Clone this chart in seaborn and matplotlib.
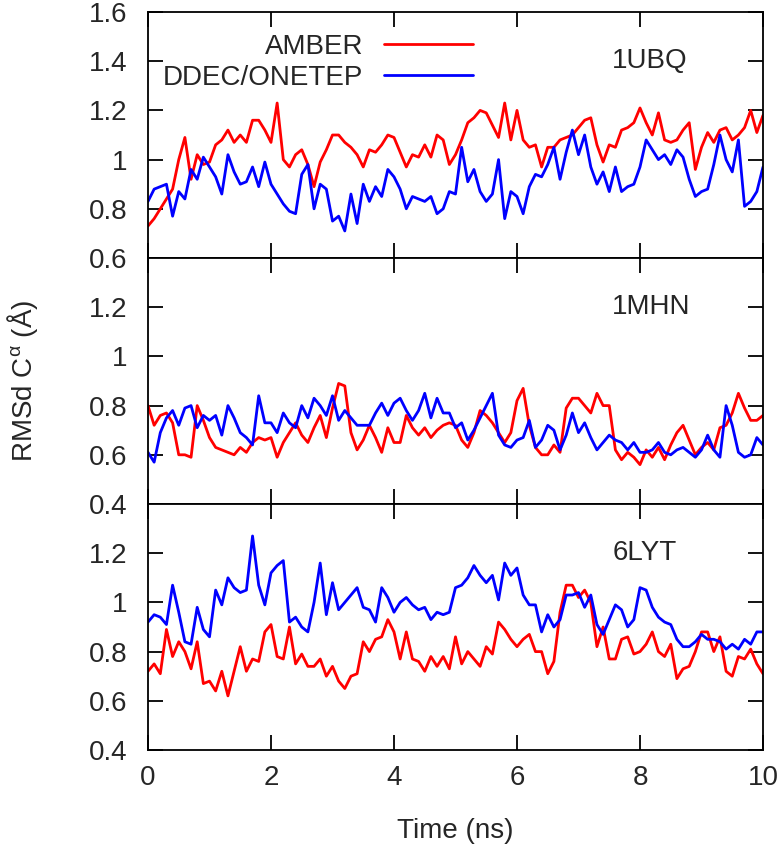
import numpy as np
import pandas as pd
import matplotlib
matplotlib.use('Agg')
import matplotlib.pyplot as plt
import seaborn as sns
from matplotlib.ticker import FuncFormatter

# --- Data: RMSd of C-alpha (Angstrom), sampled every 0.1 ns ---
time_ns = np.linspace(0, 10, 101)

ubq_amber = [
    0.73, 0.76, 0.80, 0.84, 0.88, 1.00, 1.09, 0.92, 1.02, 0.98,
    0.99, 1.06, 1.08, 1.12, 1.07, 1.10, 1.07, 1.16, 1.16, 1.12,
    1.07, 1.23, 1.00, 0.97, 1.02, 1.04, 0.98, 0.89, 0.99, 1.04,
    1.10, 1.10, 1.07, 1.05, 1.02, 0.97, 1.04, 1.03, 1.06, 1.10,
    1.09, 1.03, 0.97, 1.02, 1.01, 1.06, 1.01, 1.10, 1.08, 0.98,
    1.02, 1.08, 1.15, 1.17, 1.20, 1.19, 1.14, 1.09, 1.23, 1.08,
    1.20, 1.08, 1.05, 1.06, 0.97, 1.05, 1.05, 1.08, 1.09, 1.10,
    1.13, 1.16, 1.17, 1.06, 0.99, 1.06, 1.05, 1.12, 1.13, 1.15,
    1.21, 1.15, 1.10, 1.19, 1.08, 1.07, 1.08, 1.12, 1.15, 0.96,
    1.05, 1.11, 1.07, 1.12, 1.13, 1.08, 1.10, 1.13, 1.20, 1.11,
    1.18]
ubq_ddec = [
    0.83, 0.88, 0.89, 0.90, 0.77, 0.87, 0.84, 0.96, 0.92, 1.01,
    0.97, 0.93, 0.86, 1.02, 0.95, 0.90, 0.91, 0.97, 0.89, 0.99,
    0.90, 0.86, 0.82, 0.79, 0.78, 0.94, 0.98, 0.80, 0.90, 0.88,
    0.75, 0.77, 0.71, 0.86, 0.74, 0.90, 0.83, 0.89, 0.85, 0.96,
    0.93, 0.88, 0.80, 0.85, 0.84, 0.83, 0.85, 0.78, 0.80, 0.87,
    0.86, 1.05, 0.91, 0.96, 0.87, 0.83, 0.86, 1.00, 0.76, 0.87,
    0.85, 0.78, 0.89, 0.94, 0.93, 0.98, 1.05, 0.92, 1.03, 1.12,
    1.02, 1.10, 0.97, 0.90, 0.95, 0.87, 0.97, 0.87, 0.89, 0.90,
    0.97, 1.08, 1.04, 1.00, 1.02, 0.98, 1.04, 1.01, 0.92, 0.85,
    0.87, 0.88, 0.98, 1.10, 1.00, 0.95, 1.08, 0.81, 0.83, 0.87,
    0.97]

mhn_amber = [
    0.80, 0.72, 0.76, 0.77, 0.73, 0.60, 0.60, 0.59, 0.80, 0.74,
    0.67, 0.63, 0.62, 0.61, 0.60, 0.63, 0.61, 0.65, 0.67, 0.66,
    0.67, 0.59, 0.65, 0.69, 0.73, 0.68, 0.65, 0.71, 0.76, 0.67,
    0.79, 0.89, 0.88, 0.69, 0.62, 0.66, 0.72, 0.67, 0.61, 0.71,
    0.65, 0.65, 0.76, 0.71, 0.68, 0.71, 0.67, 0.70, 0.72, 0.73,
    0.72, 0.66, 0.63, 0.69, 0.78, 0.76, 0.73, 0.69, 0.65, 0.69,
    0.82, 0.87, 0.72, 0.63, 0.60, 0.60, 0.64, 0.61, 0.79, 0.83,
    0.83, 0.80, 0.77, 0.85, 0.80, 0.80, 0.62, 0.58, 0.61, 0.59,
    0.56, 0.62, 0.59, 0.63, 0.58, 0.64, 0.69, 0.72, 0.66, 0.60,
    0.63, 0.65, 0.62, 0.71, 0.72, 0.77, 0.85, 0.79, 0.74, 0.74,
    0.76]
mhn_ddec = [
    0.61, 0.57, 0.69, 0.75, 0.78, 0.72, 0.79, 0.80, 0.71, 0.76,
    0.74, 0.76, 0.68, 0.80, 0.75, 0.69, 0.67, 0.64, 0.84, 0.73,
    0.73, 0.69, 0.77, 0.73, 0.71, 0.80, 0.75, 0.83, 0.80, 0.76,
    0.84, 0.74, 0.78, 0.75, 0.72, 0.72, 0.72, 0.77, 0.81, 0.76,
    0.81, 0.83, 0.78, 0.74, 0.78, 0.85, 0.75, 0.83, 0.77, 0.77,
    0.71, 0.73, 0.66, 0.70, 0.75, 0.80, 0.85, 0.68, 0.64, 0.63,
    0.66, 0.67, 0.74, 0.63, 0.66, 0.72, 0.70, 0.62, 0.68, 0.77,
    0.69, 0.73, 0.67, 0.62, 0.65, 0.68, 0.66, 0.65, 0.62, 0.65,
    0.61, 0.61, 0.62, 0.65, 0.61, 0.60, 0.62, 0.63, 0.61, 0.59,
    0.62, 0.68, 0.62, 0.59, 0.80, 0.72, 0.61, 0.59, 0.60, 0.67,
    0.64]

lyt_amber = [
    0.72, 0.75, 0.71, 0.89, 0.78, 0.84, 0.80, 0.73, 0.84, 0.67,
    0.68, 0.64, 0.72, 0.62, 0.72, 0.82, 0.72, 0.77, 0.76, 0.88,
    0.91, 0.78, 0.77, 0.90, 0.75, 0.79, 0.74, 0.74, 0.77, 0.70,
    0.74, 0.68, 0.65, 0.70, 0.71, 0.84, 0.80, 0.85, 0.86, 0.93,
    0.88, 0.77, 0.88, 0.77, 0.76, 0.72, 0.78, 0.74, 0.78, 0.73,
    0.86, 0.75, 0.80, 0.77, 0.74, 0.82, 0.79, 0.92, 0.89, 0.85,
    0.82, 0.85, 0.87, 0.80, 0.80, 0.71, 0.76, 0.96, 1.07, 1.07,
    1.02, 1.05, 1.00, 0.82, 0.90, 0.77, 0.77, 0.85, 0.86, 0.79,
    0.80, 0.83, 0.88, 0.80, 0.78, 0.83, 0.69, 0.73, 0.74, 0.80,
    0.88, 0.88, 0.80, 0.86, 0.72, 0.70, 0.78, 0.77, 0.81, 0.75,
    0.71]
lyt_ddec = [
    0.92, 0.95, 0.94, 0.91, 1.07, 0.96, 0.84, 0.83, 0.98, 0.89,
    0.86, 1.05, 0.99, 1.10, 1.06, 1.04, 1.05, 1.27, 1.07, 0.99,
    1.12, 1.15, 1.17, 0.92, 0.94, 0.90, 0.88, 1.00, 1.16, 0.95,
    1.08, 0.97, 1.00, 1.03, 1.06, 0.98, 0.97, 0.92, 1.06, 1.02,
    0.96, 1.00, 1.02, 0.99, 0.97, 0.98, 0.93, 0.96, 0.95, 0.96,
    1.06, 1.07, 1.10, 1.15, 1.11, 1.08, 1.11, 1.01, 1.16, 1.11,
    1.14, 1.03, 0.99, 0.99, 0.88, 0.95, 0.90, 0.93, 1.03, 1.03,
    1.04, 0.98, 1.03, 0.91, 0.87, 0.93, 0.99, 0.97, 0.90, 0.93,
    1.06, 1.05, 0.98, 0.94, 0.92, 0.91, 0.85, 0.82, 0.82, 0.84,
    0.87, 0.85, 0.85, 0.84, 0.81, 0.83, 0.81, 0.85, 0.83, 0.88,
    0.88]

methods = ['AMBER', 'DDEC/ONETEP']
colors = {'AMBER': '#ff0000', 'DDEC/ONETEP': '#0000ff'}

panels = [
    ('1UBQ', ubq_amber, ubq_ddec, (0.6, 1.6), [0.6, 0.8, 1.0, 1.2, 1.4, 1.6]),
    ('1MHN', mhn_amber, mhn_ddec, (0.4, 1.4), [0.4, 0.6, 0.8, 1.0, 1.2]),
    ('6LYT', lyt_amber, lyt_ddec, (0.4, 1.4), [0.4, 0.6, 0.8, 1.0, 1.2]),
]

sns.set_style('ticks')
plt.rcParams['font.family'] = ['Liberation Sans', 'DejaVu Sans']
plt.rcParams['mathtext.fontset'] = 'custom'
plt.rcParams['mathtext.rm'] = 'Liberation Sans'
plt.rcParams['mathtext.it'] = 'Liberation Sans:italic'

fig = plt.figure(figsize=(7.8, 8.48), dpi=100)
W, H = 780.0, 848.0
left = 148 / W
width = 615 / W
ph = 246 / H
bottoms = [1 - 258 / H, 1 - 504 / H, 1 - 750 / H]

fmt = FuncFormatter(lambda v, p: f'{v:g}')

for i, (name, amber, ddec, ylim, yticks) in enumerate(panels):
    ax = fig.add_axes([left, bottoms[i], width, ph])
    df = pd.DataFrame({
        'time': np.concatenate([time_ns, time_ns]),
        'rmsd': np.concatenate([amber, ddec]),
        'method': ['AMBER'] * len(amber) + ['DDEC/ONETEP'] * len(ddec),
    })
    sns.lineplot(data=df, x='time', y='rmsd', hue='method', hue_order=methods,
                 palette=colors, linewidth=2, ax=ax, legend=False)
    ax.set_xlim(0, 10)
    ax.set_ylim(*ylim)
    ax.set_xticks([0, 2, 4, 6, 8, 10])
    ax.set_yticks(yticks)
    ax.yaxis.set_major_formatter(fmt)
    ax.set_xlabel('')
    ax.set_ylabel('')
    ax.tick_params(axis='both', direction='in', top=True, right=True,
                   length=10.5, width=1.3, labelsize=20, color='black')
    ax.tick_params(axis='y', pad=15)
    ax.tick_params(axis='x', pad=11)
    for sp in ax.spines.values():
        sp.set_linewidth(1.3)
        sp.set_color('black')
    # panel label (protein id)
    ax.text(7.55, yticks[-1] if i > 0 else 1.4, name, fontsize=20,
            ha='left', va='center')

    if i == 0:
        handles = ax.lines[:2]
        ax.legend(handles, methods, loc='upper right', bbox_to_anchor=(0.528, 0.912),
                  frameon=False, fontsize=20, markerfirst=False, handlelength=3.2,
                  handletextpad=0.75, labelspacing=0.2, borderpad=0, borderaxespad=0)
    if i < 2:
        ax.tick_params(axis='x', labelbottom=False)
    else:
        ax.set_xlabel('Time (ns)', fontsize=20, labelpad=19)

fig.text(22 / W, 1 - 381 / H, r'RMSd C$^{\mathrm{\alpha}}$ (Å)', fontsize=20,
         rotation=90, ha='center', va='center')

fig.savefig('out.png', dpi=100)
